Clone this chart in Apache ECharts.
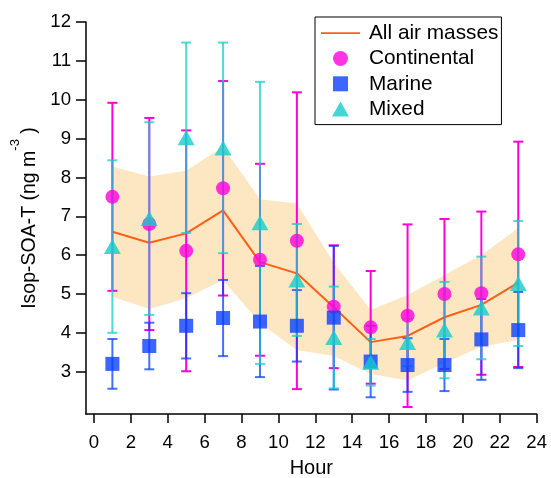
<!DOCTYPE html>
<html>
<head>
<meta charset="utf-8">
<script src="https://cdn.jsdelivr.net/npm/echarts@6/dist/echarts.min.js"></script>
<style>
html,body{margin:0;padding:0;background:#fff;}
#chart{width:551px;height:478px;}
</style>
</head>
<body>
<div id="chart"></div>
<script>
// ---- data ----
const hours = [1, 3, 5, 7, 9, 11, 13, 15, 17, 19, 21, 23];
const allMean  = [6.60, 6.32, 6.56, 7.15, 5.82, 5.53, 4.66, 3.76, 3.92, 4.40, 4.72, 5.29];
const allUpper = [8.28, 8.02, 8.17, 8.79, 7.44, 7.33, 5.80, 4.59, 4.97, 5.49, 6.00, 6.69];
const allLower = [4.93, 4.61, 4.89, 5.36, 4.25, 3.56, 3.40, 2.94, 2.77, 3.22, 3.64, 3.82];
const contMean = [7.50, 6.80, 6.11, 7.72, 5.88, 6.37, 4.67, 4.14, 4.44, 5.00, 5.02, 6.02];
const contErr  = [2.42, 2.73, 3.10, 2.76, 2.47, 3.82, 1.58, 1.45, 2.35, 1.93, 2.10, 2.90];
const marMean  = [3.20, 3.66, 4.18, 4.38, 4.29, 4.18, 4.39, 3.26, 3.17, 3.17, 3.83, 4.07];
const marErr   = [0.64, 0.60, 0.84, 0.98, 1.43, 0.92, 1.85, 0.92, 0.69, 0.67, 1.04, 0.98];
const mixMean  = [6.22, 6.94, 9.02, 8.76, 6.83, 5.36, 3.88, 3.24, 3.75, 4.07, 4.64, 5.27];
const mixErr   = [2.22, 2.48, 2.45, 2.71, 3.63, 1.44, 1.31, 0.60, 0.61, 1.24, 1.32, 1.61];
const xTicks = [0, 2, 4, 6, 8, 10, 12, 14, 16, 18, 20, 22, 24];
const yTicks = [3, 4, 5, 6, 7, 8, 9, 10, 11, 12];
const names = ['All air masses', 'Continental', 'Marine', 'Mixed'];

// ---- styles ----
const FONT = "'Liberation Sans', Arial, sans-serif";
const C_ALL = '#ff5f14', C_BAND = '#fde7c2', C_CONT = '#ff00dc', C_MAR = '#0a40ff', C_MIX = '#14cccc';
// legend icons (39x15 box so they are not stretched)
const ICON_LINE = 'path://M0,0 M39,15 M0,6.6 L39,6.6 L39,8.4 L0,8.4 Z';
const ICON_RECT = 'path://M0,0 M39,15 M12,0 L27,0 L27,15 L12,15 Z';
const ICON_TRI  = 'path://M0,0 M39,15 M11,15 L19.5,0 L28,15 Z';

const chart = echarts.init(document.getElementById('chart'), null, {renderer: 'canvas'});

function pts(mean) { return hours.map((h, i) => [h, mean[i]]); }
function errData(mean, err) { return hours.map((h, i) => [h, mean[i] - err[i], mean[i] + err[i]]); }
function errSeries(mean, err, color, opacity, z) {
  return {
    type: 'custom', z: z, silent: true,
    data: errData(mean, err),
    encode: {x: 0, y: [1, 2]},
    renderItem: function (params, api) {
      const x = api.value(0);
      const lo = api.coord([x, api.value(1)]);
      const hi = api.coord([x, api.value(2)]);
      const hw = 5;
      const st = {stroke: color, lineWidth: 2, opacity: opacity};
      return {type: 'group', children: [
        {type: 'line', shape: {x1: lo[0], y1: lo[1], x2: hi[0], y2: hi[1]}, style: st},
        {type: 'line', shape: {x1: lo[0] - hw, y1: lo[1], x2: lo[0] + hw, y2: lo[1]}, style: st},
        {type: 'line', shape: {x1: hi[0] - hw, y1: hi[1], x2: hi[0] + hw, y2: hi[1]}, style: st}
      ]};
    }
  };
}

const option = {
  animation: false,
  backgroundColor: '#fff',
  grid: {left: 86, top: 22, width: 450.7, height: 392, containLabel: false, outerBoundsMode: 'none'},
  legend: {
    orient: 'vertical', left: 315, top: 17,
    padding: [5.7, 3, 5, 6], itemGap: 4.3, itemWidth: 39, itemHeight: 15,
    borderColor: '#000', borderWidth: 1, backgroundColor: '#fff',
    textStyle: {fontFamily: FONT, fontSize: 20.8, lineHeight: 20, color: '#000', padding: [0, 0, 0, 4]},
    data: [
      {name: names[0], icon: ICON_LINE, itemStyle: {color: C_ALL, borderWidth: 0}, lineStyle: {width: 0}},
      {name: names[1], icon: 'circle'},
      {name: names[2], icon: ICON_RECT},
      {name: names[3], icon: ICON_TRI}
    ]
  },
  xAxis: {
    type: 'value', min: -0.43, max: 24,
    name: 'Hour', nameLocation: 'middle', nameGap: 44,
    nameTextStyle: {fontFamily: FONT, fontSize: 20, color: '#000'},
    axisLine: {show: true, onZero: false, lineStyle: {color: '#000', width: 1.5}},
    axisTick: {show: true, inside: false, length: 9, lineStyle: {color: '#000', width: 1.5}, customValues: xTicks},
    axisLabel: {fontFamily: FONT, fontSize: 18.6, color: '#000', margin: 19, customValues: xTicks},
    splitLine: {show: false}
  },
  yAxis: {
    type: 'value', min: 1.91, max: 12,
    name: '{t|Isop-SOA-T (ng m}{s|-3}{t| )}', nameLocation: 'middle', nameGap: 42, nameRotate: 90,
    nameTextStyle: {
      rich: {
        t: {fontFamily: FONT, fontSize: 19.5, color: '#000', lineHeight: 20, padding: [27, 0, 0, 0]},
        s: {fontFamily: FONT, fontSize: 13, color: '#000', lineHeight: 13}
      }
    },
    axisLine: {show: true, onZero: false, lineStyle: {color: '#000', width: 1.5}},
    axisTick: {show: true, inside: false, length: 10, lineStyle: {color: '#000', width: 1.5}, customValues: yTicks},
    axisLabel: {fontFamily: FONT, fontSize: 18.6, color: '#000', margin: 15, customValues: yTicks},
    splitLine: {show: false}
  },
  series: [
    {
      type: 'custom', z: 1, silent: true,
      data: hours.map((h, i) => [h, allLower[i], allUpper[i]]),
      encode: {x: 0, y: [1, 2]},
      renderItem: function (params, api) {
        if (params.dataIndex !== 0) return null;
        const poly = [];
        for (let i = 0; i < hours.length; i++) poly.push(api.coord([hours[i], allUpper[i]]));
        for (let i = hours.length - 1; i >= 0; i--) poly.push(api.coord([hours[i], allLower[i]]));
        return {type: 'polygon', shape: {points: poly}, style: {fill: C_BAND}};
      }
    },
    {
      name: 'All air masses', type: 'line', z: 2, data: pts(allMean),
      symbol: 'none', color: C_ALL, lineStyle: {color: C_ALL, width: 2}
    },
    errSeries(contMean, contErr, C_CONT, 1, 3),
    errSeries(marMean, marErr, C_MAR, 0.75, 4),
    errSeries(mixMean, mixErr, C_MIX, 0.75, 5),
    {name: 'Continental', type: 'scatter', z: 6, data: pts(contMean), symbol: 'circle', symbolSize: 14, itemStyle: {color: C_CONT}},
    {name: 'Marine', type: 'scatter', z: 7, data: pts(marMean), symbol: 'rect', symbolSize: 14, itemStyle: {color: C_MAR}},
    {name: 'Mixed', type: 'scatter', z: 8, data: pts(mixMean), symbol: 'triangle', symbolSize: [17, 15], itemStyle: {color: C_MIX}}
  ]
};
chart.setOption(option);
</script>
</body>
</html>
